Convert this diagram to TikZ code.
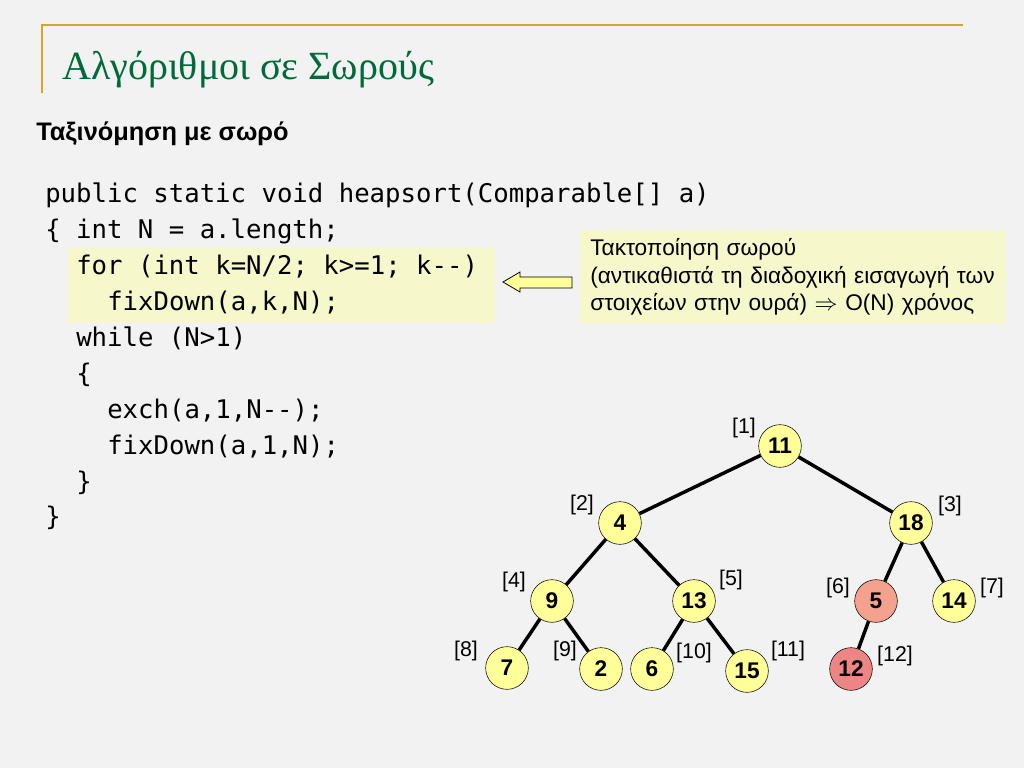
\documentclass[tikz,border=0pt]{standalone}
\usepackage{fontspec}
\setmainfont{Liberation Sans}
\newfontfamily\titlefont{Liberation Serif}
\setmonofont{DejaVu Sans Mono}
\usetikzlibrary{backgrounds}
\definecolor{slidebg}{HTML}{F2F2F2}
\definecolor{rulec}{HTML}{D6A62C}
\definecolor{titlec}{HTML}{006A3A}
\definecolor{notec}{HTML}{F7F7CC}
\definecolor{keyc}{HTML}{FFFF99}
\definecolor{hotc}{HTML}{F4A28E}
\definecolor{hotterc}{HTML}{EE8585}
\tikzstyle{slide} = [
  x=0.75pt, y=-0.75pt,
]
\tikzstyle{code} = [anchor=base west, inner sep=0pt,
  font=\ttfamily\fontsize{19.25}{27}\selectfont]
\tikzstyle{key} = [circle, draw, fill=keyc, minimum size=32pt, inner sep=0pt,
  font=\bfseries\fontsize{17}{17}\selectfont]
\tikzstyle{idx} = [inner sep=0pt, font=\fontsize{16}{16}\selectfont]
\tikzstyle{edge} = [line width=2.6pt]

\begin{document}
\begin{tikzpicture}[slide]
    % Page
    \fill[slidebg] (0,0) rectangle (1024,768);
    \useasboundingbox (0,0) rectangle (1024,768);

    % Title
    \draw[rulec, line width=2pt] (42,93) -- (42,25) -- (963,25);
    \node[anchor=base west, inner sep=0pt, text=titlec,
      font=\titlefont\fontsize{30}{30}\selectfont] (title) at (62,79)
      {Αλγόριθμοι σε Σωρούς};
    \node[anchor=base west, inner sep=0pt,
      font=\bfseries\fontsize{19}{19}\selectfont] (subtitle) at (36,140)
      {Ταξινόμηση με σωρό};

    % Code
    \node[fill=notec, minimum width=320pt, minimum height=56pt,
      anchor=north west, inner sep=0pt] (loop) at (68,248) {};
    \node[code] (code1) at (45,202) {public static void heapsort(Comparable[] a)};
    \node[code] (code2) at (45,238) {\{ int N = a.length;};
    \node[code] (code3) at (76,274) {for (int k=N/2; k>=1; k-{}-)};
    \node[code] (code4) at (107,310) {fixDown(a,k,N);};
    \node[code] (code5) at (76,346) {while (N>1)};
    \node[code] (code6) at (76,382) {\{};
    \node[code] (code7) at (107,418) {exch(a,1,N-{}-);};
    \node[code] (code8) at (107,454) {fixDown(a,1,N);};
    \node[code] (code9) at (76,490) {\}};
    \node[code] (code10) at (45,525) {\}};

    % Note
    \node[fill=notec, anchor=north west, minimum width=319pt, minimum height=70pt,
      text width=304pt, inner xsep=7.5pt, align=left,
      font=\fontsize{17}{20.5}\selectfont] (note) at (580,230)
      {Τακτοποίηση σωρού\\
       (αντικαθιστά τη διαδοχική εισαγωγή των\\
       στοιχείων στην ουρά) $\Rightarrow$ O(N) χρόνος};
    \draw[fill=keyc, line width=0.6pt] (503,282) -- (520,272) -- (520,277)
      -- (572,277) -- (572,288) -- (520,288) -- (520,292) -- cycle;

    % Heap
    \node[key] (n1) at (780,446) {11};
    \node[key] (n2) at (620,523) {4};
    \node[key] (n3) at (911,523) {18};
    \node[key] (n4) at (552,601) {9};
    \node[key] (n5) at (694,601) {13};
    \node[key, fill=hotc] (n6) at (876,601) {5};
    \node[key] (n7) at (954,601) {14};
    \node[key] (n8) at (507,668) {7};
    \node[key] (n9) at (601,669) {2};
    \node[key] (n10) at (652,669) {6};
    \node[key] (n11) at (747,671) {15};
    \node[key, fill=hotterc] (n12) at (851,669) {12};

    \draw[edge] (n1) -- (n2);
    \draw[edge] (n1) -- (n3);
    \draw[edge] (n2) -- (n4);
    \draw[edge] (n2) -- (n5);
    \draw[edge] (n3) -- (n6);
    \draw[edge] (n3) -- (n7);
    \draw[edge] (n4) -- (n8);
    \draw[edge] (n4) -- (n9);
    \draw[edge] (n5) -- (n10);
    \draw[edge] (n5) -- (n11);
    \draw[edge] (n6) -- (n12);

    % Indices
    \node[idx] (i1) at (744,428) {[1]};
    \node[idx] (i2) at (582,505) {[2]};
    \node[idx] (i3) at (950,506) {[3]};
    \node[idx] (i4) at (514,582) {[4]};
    \node[idx] (i5) at (731,580) {[5]};
    \node[idx] (i6) at (838,588) {[6]};
    \node[idx] (i7) at (992,588) {[7]};
    \node[idx] (i8) at (466,651) {[8]};
    \node[idx] (i9) at (565,651) {[9]};
    \node[idx] (i10) at (694,653) {[10]};
    \node[idx] (i11) at (788,651) {[11]};
    \node[idx] (i12) at (895,656) {[12]};
\end{tikzpicture}
\end{document}
